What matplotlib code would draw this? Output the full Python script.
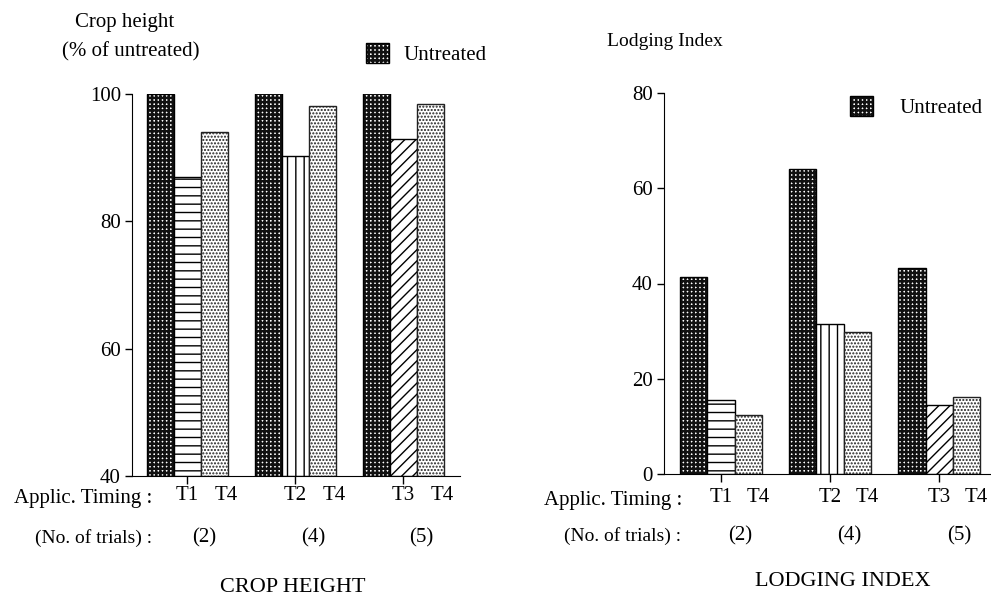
import numpy as np
import matplotlib
matplotlib.use("Agg")
import matplotlib.pyplot as plt
from matplotlib.patches import Patch
from matplotlib.legend_handler import HandlerTuple

plt.rcParams['font.family'] = ['Liberation Serif', 'DejaVu Serif']

# ---- data ----
groups = [0, 4, 8]
timing_mid = ["T1", "T2", "T3"]
timing_last = ["T4", "T4", "T4"]
n_trials = ["(2)", "(4)", "(5)"]

height_untreated = [100.0, 100.2, 100.5]
height_early = [87.0, 90.3, 92.9]
height_t4 = [94.0, 98.1, 98.5]

lodging_untreated = [41.4, 64.0, 43.3]
lodging_early = [15.5, 31.5, 14.5]
lodging_t4 = [12.4, 29.8, 16.2]

early_hatches = ["--", "||", "///"]

W, H = 991, 598
GRID_LW = 1.8


def fx(px):
    return px / W


def fy(py):
    return 1 - py / H


def untreated_bars(ax, x, h, bottom):
    # black grid with small white holes
    back = ax.bar(x, np.array(h) - bottom, bottom=bottom, width=1.0, color="white",
                  edgecolor="#111111", hatch="++++", linewidth=0)
    for p in back:
        p.set_hatch_linewidth(GRID_LW)
    ax.bar(x, np.array(h) - bottom, bottom=bottom, width=1.0, fill=False,
           edgecolor="black", linewidth=1.0)


def draw_panel(ax, untreated, early, t4, bottom):
    x = np.array(groups, dtype=float)
    untreated_bars(ax, x - 1, untreated, bottom)
    for xi, hi, hatch in zip(x, early, early_hatches):
        ax.bar(xi, hi - bottom, bottom=bottom, width=1.0, color="white",
               edgecolor="black", hatch=hatch, linewidth=1.0)
    ax.bar(x + 1, np.array(t4) - bottom, bottom=bottom, width=1.0, color="white",
           edgecolor="#222222", hatch=".....", linewidth=1.0)
    for s in ["top", "right"]:
        ax.spines[s].set_visible(False)
    ax.set_xticks(x)
    ax.set_xticklabels([])
    ax.tick_params(axis="x", length=6, width=1)
    ax.tick_params(axis="y", length=5, width=1, labelsize=15, pad=3)


fig = plt.figure(figsize=(W / 100, H / 100), dpi=100)

# left panel: crop height
axL = fig.add_axes([fx(132), fy(476), fx(460 - 132), fy(94) - fy(476)])
draw_panel(axL, height_untreated, height_early, height_t4, 40)
axL.set_ylim(40, 100)
axL.set_xlim(-2.04, 10.1)
axL.set_yticks([40, 60, 80, 100])

# right panel: lodging index
axR = fig.add_axes([fx(664), fy(474), fx(991 - 664), fy(93) - fy(474)])
draw_panel(axR, lodging_untreated, lodging_early, lodging_t4, 0)
axR.set_ylim(0, 80)
axR.set_xlim(-2.09, 9.9)
axR.set_yticks([0, 20, 40, 60, 80])

fs = 15

# x labels under the groups
for ax, tlab_y, tr_y, t4_off, tr_off in [(axL, fy(495), fy(538), 1.45, 0.65),
                                          (axR, fy(497), fy(536), 1.35, 0.72)]:
    trans = ax.get_xaxis_transform()
    pos = ax.get_position()
    y_ax = (tlab_y - pos.y0) / pos.height
    y_tr = (tr_y - pos.y0) / pos.height
    for g, m, l, n in zip(groups, timing_mid, timing_last, n_trials):
        ax.text(g, y_ax, m, transform=trans, ha="center", va="center", fontsize=fs)
        ax.text(g + t4_off, y_ax, l, transform=trans, ha="center", va="center", fontsize=fs)
        ax.text(g + tr_off, y_tr, n, transform=trans, ha="center", va="center", fontsize=fs)

fig.text(fx(152), fy(499), "Applic. Timing :", ha="right", va="center", fontsize=fs)
fig.text(fx(152), fy(538), "(No. of trials) :", ha="right", va="center", fontsize=fs - 1)
fig.text(fx(682), fy(500), "Applic. Timing :", ha="right", va="center", fontsize=fs)
fig.text(fx(681), fy(536), "(No. of trials) :", ha="right", va="center", fontsize=fs - 1)

fig.text(fx(293), fy(587), "CROP HEIGHT", ha="center", va="center", fontsize=16)
fig.text(fx(843), fy(582), "LODGING INDEX", ha="center", va="center", fontsize=16)

fig.text(fx(125), fy(22), "Crop height", ha="center", va="center", fontsize=fs)
fig.text(fx(131), fy(52), "(% of untreated)", ha="center", va="center", fontsize=fs)
fig.text(fx(665), fy(42), "Lodging Index", ha="center", va="center", fontsize=fs - 1)


# legends
def legend_handle():
    back = Patch(facecolor="white", edgecolor="#111111", hatch="++++", linewidth=0)
    back.set_hatch_linewidth(GRID_LW)
    edge = Patch(fill=False, edgecolor="black", linewidth=1.0)
    return (back, edge)


for anchor, pad in [((fx(347), fy(54)), 0.7), ((fx(831), fy(107)), 1.3)]:
    leg = fig.legend([legend_handle()], ["Untreated"], loc="center left",
                     bbox_to_anchor=anchor, frameon=False, fontsize=fs,
                     handler_map={tuple: HandlerTuple(ndivide=1)},
                     handlelength=1.1, handleheight=1.1, handletextpad=pad)
    for p in leg.findobj(Patch):
        if p.get_hatch() == "++++":
            p.set_hatch_linewidth(GRID_LW)

fig.savefig("out.png", dpi=100)
